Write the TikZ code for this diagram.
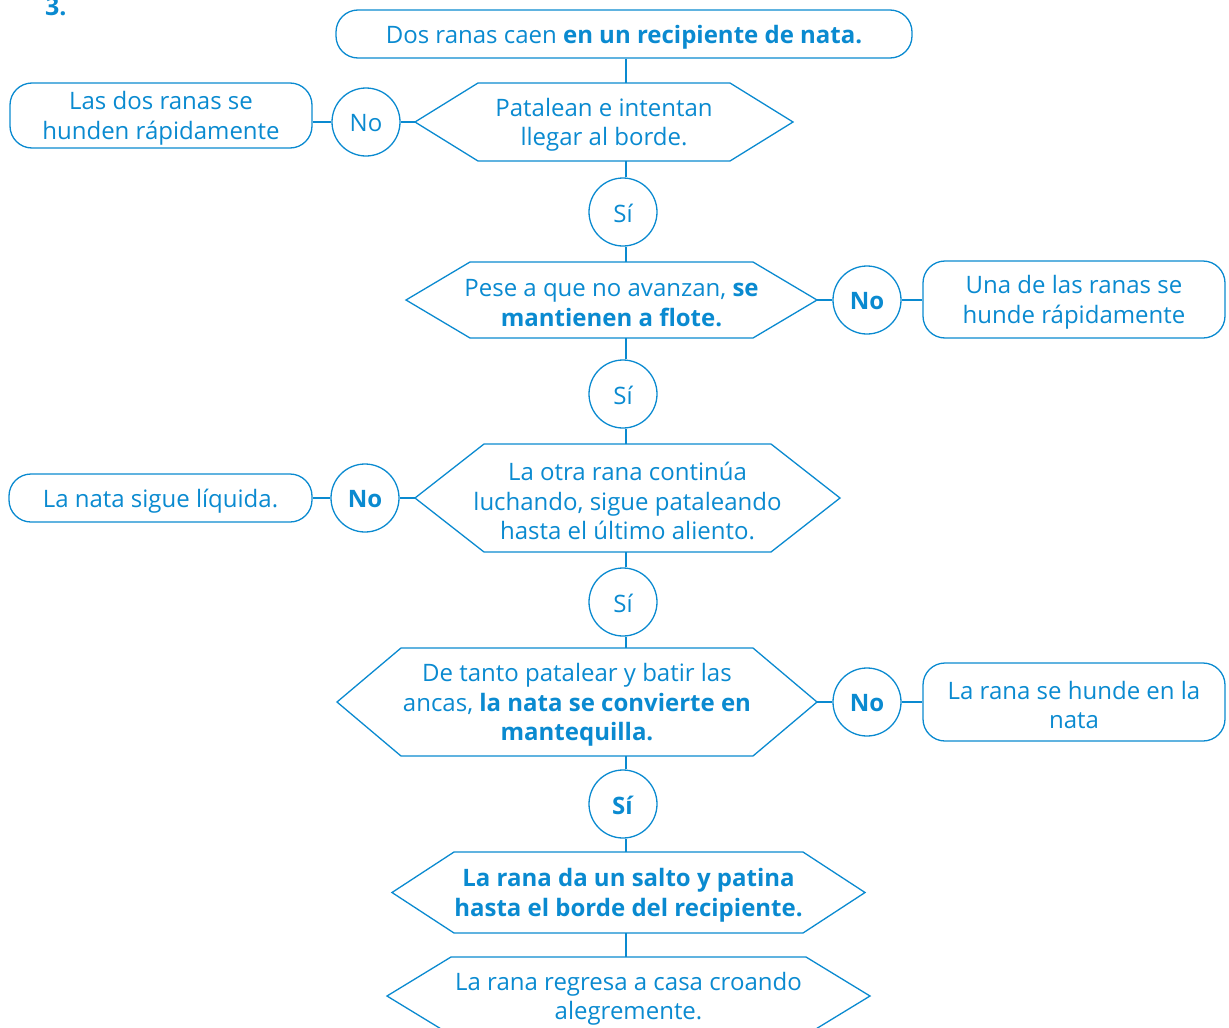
\documentclass[tikz,border=0pt]{standalone}
\usepackage{fontspec}
\setmainfont{Open Sans}
\definecolor{fb}{RGB}{10,138,208}
\newcommand{\hexa}[7]{%
  \draw[lw] (#2,{(#4+#5)/2}) coordinate (#1w) -- (#2+#6,#4) -- (#3-#6,#4) -- (#3,{(#4+#5)/2}) coordinate (#1e) -- (#3-#6,#5) -- (#2+#6,#5) -- cycle;
  \coordinate (#1n) at (626,#4);
  \coordinate (#1s) at (626,#5);
  \node[txt] (#1) at ({(#2+#3)/2},{(#4+#5)/2}) {#7};
}
\begin{document}
\begin{tikzpicture}[x=1pt,y=-1pt,
  lw/.style={draw=fb, line width=1.3pt},
  conn/.style={draw=fb, line width=2.8pt},
  txtfont/.style={font=\fontsize{24}{29.5}\selectfont},
  txt/.style={text=fb, align=center, txtfont, inner sep=0pt, yshift=-3pt},
  ctxt/.style={txt, yshift=2pt},
  rbox/.style={lw, rounded corners=22pt, inner sep=0pt},
  circ/.style={lw, circle, minimum size=68pt, inner sep=0pt},
]
\clip (0,0) rectangle (1229,1028);
\useasboundingbox (0,0) rectangle (1229,1028);

\node[anchor=base west, text=fb, font=\fontsize{25}{30}\selectfont\bfseries, inner sep=0pt] (num) at (45,15) {3.};

% top box
\node[rbox, minimum width=576pt, minimum height=48pt] (n1) at (624,34) {};
\node[txt] (n1t) at (n1) {Dos ranas caen \textbf{en un recipiente de nata.}};

% hexagons
\hexa{h2}{415}{793}{83}{161}{63}{Patalean e intentan\\llegar al borde.}
\hexa{h3}{406}{817}{262}{338}{64}{Pese a que no avanzan, \textbf{se}\\\textbf{mantienen a flote.}}
\hexa{h4}{415}{840}{444}{552}{69}{La otra rana continúa\\luchando, sigue pataleando\\hasta el último aliento.}
\hexa{h5}{337}{817}{648}{756}{64}{De tanto patalear y batir las\\ancas, \textbf{la nata se convierte en}\\\textbf{mantequilla.}}
\hexa{h6}{392}{865}{852}{933}{62}{\textbf{La rana da un salto y patina}\\\textbf{hasta el borde del recipiente.}}
\hexa{h7}{387}{870}{957}{1035}{64}{La rana regresa a casa croando\\alegremente.}

% circles
\node[circ] (c1) at (366,122) {};
\node[ctxt] (c1t) at (c1) {No};
\node[circ] (s1) at (623,212) {};
\node[ctxt] (s1t) at (s1) {Sí};
\node[circ] (c2) at (867,300) {};
\node[ctxt] (c2t) at (c2) {\textbf{No}};
\node[circ] (s2) at (623,394) {};
\node[ctxt] (s2t) at (s2) {Sí};
\node[circ] (c3) at (365,498) {};
\node[ctxt] (c3t) at (c3) {\textbf{No}};
\node[circ] (s3) at (623,602) {};
\node[ctxt] (s3t) at (s3) {Sí};
\node[circ] (c4) at (867,702) {};
\node[ctxt] (c4t) at (c4) {\textbf{No}};
\node[circ] (s4) at (623,804) {};
\node[ctxt] (s4t) at (s4) {\textbf{Sí}};

% side boxes
\node[rbox, minimum width=302pt, minimum height=65pt] (b1) at (161,115.5) {};
\node[txt] (b1t) at (b1) {Las dos ranas se\\hunden rápidamente};
\node[rbox, minimum width=302pt, minimum height=77pt] (b2) at (1074,299.5) {};
\node[txt] (b2t) at (b2) {Una de las ranas se\\hunde rápidamente};
\node[rbox, minimum width=303pt, minimum height=48pt] (b3) at (160.5,498) {};
\node[txt] (b3t) at (b3) {La nata sigue líquida.};
\node[rbox, minimum width=302pt, minimum height=78pt] (b4) at (1074,702) {};
\node[txt] (b4t) at (b4) {La rana se hunde en la\\nata};

% vertical connectors
\draw[conn] (n1.south -| h2n) -- (h2n);
\draw[conn] (h2s) -- (s1.north -| h2s);
\draw[conn] (s1.south -| h3n) -- (h3n);
\draw[conn] (h3s) -- (s2.north -| h3s);
\draw[conn] (s2.south -| h4n) -- (h4n);
\draw[conn] (h4s) -- (s3.north -| h4s);
\draw[conn] (s3.south -| h5n) -- (h5n);
\draw[conn] (h5s) -- (s4.north -| h5s);
\draw[conn] (s4.south -| h6n) -- (h6n);
\draw[conn] (h6s) -- (h7n);

% horizontal connectors
\draw[conn] (h2w) -- (c1.east);
\draw[conn] (c1.west) -- (b1.east |- c1);
\draw[conn] (h3e) -- (c2.west);
\draw[conn] (c2.east) -- (b2.west |- c2);
\draw[conn] (h4w) -- (c3.east);
\draw[conn] (c3.west) -- (b3.east |- c3);
\draw[conn] (h5e) -- (c4.west);
\draw[conn] (c4.east) -- (b4.west |- c4);
\end{tikzpicture}
\end{document}
